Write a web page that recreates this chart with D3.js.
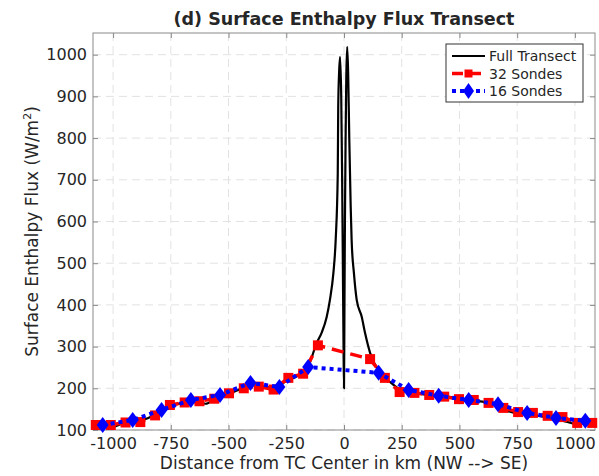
<!DOCTYPE html>
<html>
<head>
    <meta charset="utf-8">
    <script src="https://d3js.org/d3.v7.min.js"></script>
    <style>
        body { margin: 0; background: #fff; }
        text { font-family: "DejaVu Sans", sans-serif; fill: #262626; }
    </style>
</head>
<body>
    <svg id="chartArea" width="599" height="476"></svg>
    <script>
        // full transect (km, W/m^2)
        const fullX = [-1087, -1050, -1000, -950, -900, -850, -800, -750, -700, -650, -600, -550, -500, -450,
            -400, -350, -300, -250, -200, -156, -118, -97, -75, -61, -46, -36, -27, -25, -21, -17, -12, -8, -5, -2, 0,
            2, 4, 7, 10, 14, 18, 23, 29, 33, 43, 55, 77, 91, 113, 156, 200, 250, 300, 350, 400, 450, 500, 550,
            600, 650, 700, 750, 800, 850, 900, 950, 1000, 1050, 1087];
        const fullY = [110, 112, 108, 118, 122, 128, 145, 158, 165, 170, 163, 178, 186, 198,
            210, 205, 200, 218, 230, 251, 309, 333, 371, 412, 476, 556, 716, 875, 960, 995, 900, 700, 500, 300, 200,
            400, 600, 800, 950, 1019, 956, 795, 635, 556, 476, 412, 371, 333, 285, 237, 215, 195, 190, 185, 182, 180, 175, 170,
            168, 160, 147, 140, 138, 133, 128, 122, 115, 118, 115];

        // 32 sondes
        const s32X = [-1075, -1010, -946, -882, -818, -754, -690, -626, -562, -498, -434, -369, -305, -241, -177, -113,
            113, 177, 241, 305, 369, 434, 498, 562, 626, 690, 754, 818, 882, 946, 1010, 1075];
        const s32Y = [112, 112, 118, 119, 135, 160, 166, 169, 175, 188, 200, 204, 197, 225, 235, 303,
            270, 225, 191, 189, 184, 180, 174, 172, 165, 153, 143, 141, 134, 131, 117, 117];

        // 16 sondes
        const s16X = [-1045, -915, -790, -663, -537, -405, -280, -155, 150, 280, 410, 540, 667, 793, 918, 1045];
        const s16Y = [112, 124, 148, 172, 184, 213, 203, 251, 237, 196, 182, 172, 162, 141, 129, 122];

        const xTicks = [-1000, -750, -500, -250, 0, 250, 500, 750, 1000];
        const yTicks = [100, 200, 300, 400, 500, 600, 700, 800, 900, 1000];

        const svg = d3.select("#chartArea");
        const pLeft = 93, pRight = 595, pTop = 33, pBottom = 430;

        const x = d3.scaleLinear().domain([-1087, 1087]).range([pLeft, pRight]);
        const y = d3.scaleLinear().domain([100, 1052]).range([pBottom, pTop]);

        // grid
        svg.append("g").selectAll("line").data(xTicks).join("line")
            .attr("x1", d => x(d)).attr("x2", d => x(d))
            .attr("y1", pTop).attr("y2", pBottom)
            .attr("stroke", "#e2e2e2").attr("stroke-dasharray", "8,5");
        svg.append("g").selectAll("line").data(yTicks).join("line")
            .attr("x1", pLeft).attr("x2", pRight)
            .attr("y1", d => y(d)).attr("y2", d => y(d))
            .attr("stroke", "#e2e2e2").attr("stroke-dasharray", "8,5");

        // axes with inward ticks
        const axStyle = g => {
            g.select(".domain").remove();
            g.selectAll(".tick line").attr("stroke", "#8a8a8a");
            g.selectAll(".tick text").attr("font-size", "16px").attr("fill", "#262626")
                .attr("font-family", "DejaVu Sans, sans-serif");
        };
        const fmt = d => String(d);
        svg.append("g").attr("transform", `translate(0,${pBottom})`)
            .call(d3.axisBottom(x).tickValues(xTicks).tickFormat(fmt).tickSizeInner(-5).tickPadding(8))
            .call(axStyle);
        svg.append("g").attr("transform", `translate(0,${pTop})`)
            .call(d3.axisTop(x).tickValues(xTicks).tickSizeInner(-5).tickFormat(""))
            .call(axStyle);
        svg.append("g").attr("transform", `translate(${pLeft},0)`)
            .call(d3.axisLeft(y).tickValues(yTicks).tickFormat(fmt).tickSizeInner(-5).tickPadding(6))
            .call(axStyle);
        svg.append("g").attr("transform", `translate(${pRight},0)`)
            .call(d3.axisRight(y).tickValues(yTicks).tickSizeInner(-5).tickFormat(""))
            .call(axStyle);

        svg.append("rect").attr("x", pLeft).attr("y", pTop)
            .attr("width", pRight - pLeft).attr("height", pBottom - pTop)
            .attr("fill", "none").attr("stroke", "#8a8a8a").attr("stroke-width", 1);

        const line = d3.line().x(d => x(d[0])).y(d => y(d[1]));

        // full transect
        svg.append("path").datum(d3.zip(fullX, fullY))
            .attr("d", line.curve(d3.curveMonotoneX)).attr("fill", "none")
            .attr("stroke", "#000").attr("stroke-width", 2.2).attr("stroke-linejoin", "round");
        line.curve(d3.curveLinear);

        // 32 sondes
        const p32 = d3.zip(s32X, s32Y);
        svg.append("path").datum(p32)
            .attr("d", line).attr("fill", "none")
            .attr("stroke", "#ff0000").attr("stroke-width", 3.5).attr("stroke-dasharray", "12,7");
        svg.append("g").selectAll("rect").data(p32).join("rect")
            .attr("x", d => x(d[0]) - 5).attr("y", d => y(d[1]) - 5)
            .attr("width", 10).attr("height", 10).attr("fill", "#ff0000");

        // 16 sondes
        const p16 = d3.zip(s16X, s16Y);
        const diamond = "M0,-8L6,0L0,8L-6,0Z";
        svg.append("path").datum(p16)
            .attr("d", line).attr("fill", "none")
            .attr("stroke", "#0000ff").attr("stroke-width", 4).attr("stroke-dasharray", "4,4");
        svg.append("g").selectAll("path").data(p16).join("path")
            .attr("transform", d => `translate(${x(d[0])},${y(d[1])})`)
            .attr("d", diamond).attr("fill", "#0000ff");

        // title and labels
        svg.append("text").attr("x", (pLeft + pRight) / 2).attr("y", 25)
            .attr("text-anchor", "middle").attr("font-size", "17.5px").attr("font-weight", "bold")
            .attr("fill", "#000")
            .text("(d) Surface Enthalpy Flux Transect");
        svg.append("text").attr("x", (pLeft + pRight) / 2).attr("y", 469)
            .attr("text-anchor", "middle").attr("font-size", "17px")
            .text("Distance from TC Center in km (NW --> SE)");
        const yl = svg.append("text")
            .attr("transform", `translate(38,${(pTop + pBottom) / 2}) rotate(-90)`)
            .attr("text-anchor", "middle").attr("font-size", "17px");
        yl.append("tspan").text("Surface Enthalpy Flux (W/m");
        yl.append("tspan").attr("dy", -7).attr("font-size", "11px").text("2");
        yl.append("tspan").attr("dy", 7).text(")");

        // legend
        const lg = svg.append("g").attr("transform", "translate(446,44)");
        lg.append("rect").attr("width", 137).attr("height", 58)
            .attr("fill", "#fff").attr("stroke", "#333").attr("stroke-width", 1);
        const rows = [
            { name: "Full Transect", color: "#000", dash: null, w: 2.2, mark: null },
            { name: "32 Sondes", color: "#ff0000", dash: "11,7", w: 3.5, mark: "square" },
            { name: "16 Sondes", color: "#0000ff", dash: "4,4", w: 4, mark: "diamond" }
        ];
        rows.forEach((r, i) => {
            const cy = 12 + i * 17.5;
            lg.append("line").attr("x1", 6).attr("x2", 39).attr("y1", cy).attr("y2", cy)
                .attr("stroke", r.color).attr("stroke-width", r.w)
                .attr("stroke-dasharray", r.dash);
            if (r.mark === "square") {
                lg.append("rect").attr("x", 22.5 - 4).attr("y", cy - 4).attr("width", 8).attr("height", 8)
                    .attr("fill", r.color);
            } else if (r.mark === "diamond") {
                lg.append("path").attr("transform", `translate(22.5,${cy})`)
                    .attr("d", "M0,-8L5.5,0L0,8L-5.5,0Z").attr("fill", r.color);
            }
            lg.append("text").attr("x", 43).attr("y", cy + 5)
                .attr("font-size", "14px").attr("fill", "#000").text(r.name);
        });
    </script>
</body>
</html>
